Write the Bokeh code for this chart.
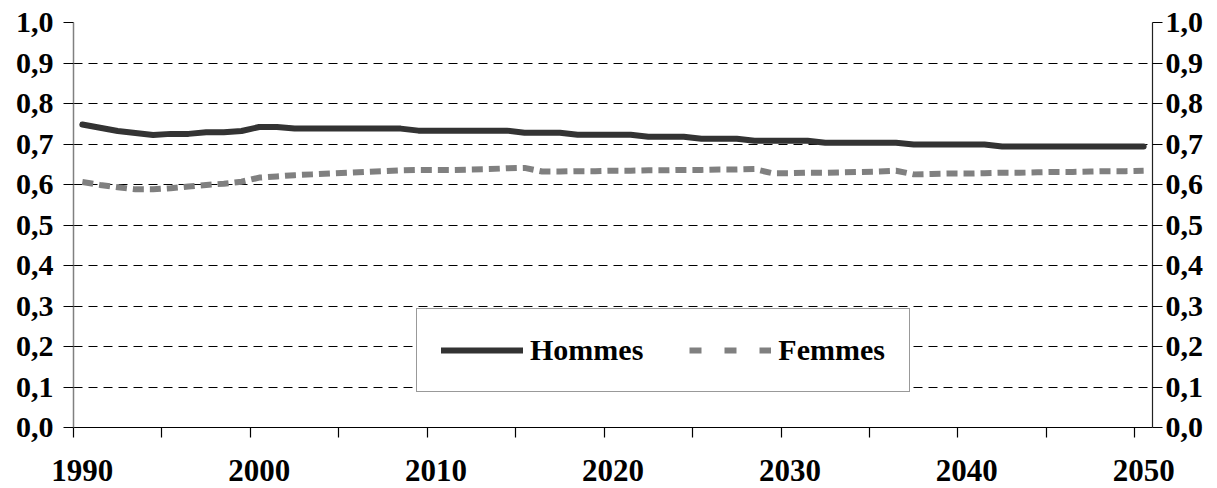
from bokeh.plotting import figure
from bokeh.models import Range1d, FixedTicker, LinearAxis, Legend, LegendItem
from bokeh.embed import file_html
from bokeh.resources import INLINE

years = list(range(1990, 2051))
hommes = [0.748, 0.740, 0.732, 0.727, 0.722, 0.725, 0.725, 0.729, 0.729, 0.732,
          0.742, 0.742, 0.738, 0.738, 0.738, 0.738, 0.738, 0.738, 0.738, 0.733,
          0.733, 0.733, 0.733, 0.733, 0.733, 0.728, 0.728, 0.728, 0.723, 0.723,
          0.723, 0.723, 0.718, 0.718, 0.718, 0.713, 0.713, 0.713, 0.708, 0.708,
          0.708, 0.708, 0.703, 0.703, 0.703, 0.703, 0.703, 0.699, 0.699, 0.699,
          0.699, 0.699, 0.694, 0.694, 0.694, 0.694, 0.694, 0.694, 0.694, 0.694,
          0.694]
femmes = [0.606, 0.599, 0.593, 0.588, 0.588, 0.591, 0.595, 0.599, 0.602, 0.607,
          0.617, 0.620, 0.623, 0.625, 0.627, 0.629, 0.631, 0.633, 0.635, 0.636,
          0.636, 0.636, 0.637, 0.638, 0.640, 0.641, 0.632, 0.632, 0.633, 0.633,
          0.634, 0.634, 0.635, 0.635, 0.636, 0.636, 0.637, 0.637, 0.638, 0.628,
          0.628, 0.629, 0.629, 0.630, 0.631, 0.632, 0.634, 0.625, 0.626, 0.627,
          0.627, 0.628, 0.629, 0.629, 0.630, 0.631, 0.631, 0.632, 0.633, 0.633,
          0.634]
series_names = ["Hommes", "Femmes"]
y_tick_values = [0.0, 0.1, 0.2, 0.3, 0.4, 0.5, 0.6, 0.7, 0.8, 0.9, 1.0]
y_tick_labels = ["0,0", "0,1", "0,2", "0,3", "0,4", "0,5", "0,6", "0,7", "0,8", "0,9", "1,0"]
x_label_years = [1990, 2000, 2010, 2020, 2030, 2040, 2050]
x_tick_labels = ["1990", "2000", "2010", "2020", "2030", "2040", "2050"]

FONT = "Liberation Serif"
FS = "30px"

p = figure(width=1217, height=488, output_backend="svg", toolbar_location=None,
           x_range=Range1d(years[0] - 0.5, years[-1] + 0.5), y_range=Range1d(0, 1),
           min_border_left=73, min_border_right=65, min_border_top=22, min_border_bottom=61)
p.outline_line_color = None
p.background_fill_color = "white"
p.border_fill_color = "white"

yticker = FixedTicker(ticks=y_tick_values)
overrides = {v: s for v, s in zip(y_tick_values, y_tick_labels)}

# left axis
ya = p.yaxis[0]
ya.ticker = yticker
ya.major_label_overrides = overrides
ya.axis_line_color = "#808080"
ya.axis_line_width = 1.5
ya.major_tick_line_color = "black"
ya.major_tick_out = 10
ya.major_tick_in = 0
ya.minor_tick_line_color = None
ya.major_label_standoff = 10
ya.major_label_text_font = FONT
ya.major_label_text_font_style = "bold"
ya.major_label_text_font_size = FS
ya.major_label_text_color = "black"

# right axis
ra = LinearAxis(ticker=yticker, major_label_overrides=overrides)
ra.axis_line_color = "#222222"
ra.axis_line_width = 1.2
ra.major_tick_line_color = "black"
ra.major_tick_out = 10
ra.major_tick_in = 0
ra.minor_tick_line_color = None
ra.major_label_standoff = 3
ra.major_label_text_font = FONT
ra.major_label_text_font_style = "bold"
ra.major_label_text_font_size = FS
ra.major_label_text_color = "black"
p.add_layout(ra, "right")

# bottom axis
minor = [years[0] - 0.5 + 5 * k for k in range(13)]
xa = p.xaxis[0]
xa.ticker = FixedTicker(ticks=x_label_years, minor_ticks=minor)
xa.major_label_overrides = {v: s for v, s in zip(x_label_years, x_tick_labels)}
xa.axis_line_color = "black"
xa.axis_line_width = 1.2
xa.major_tick_out = 0
xa.major_tick_in = 0
xa.major_tick_line_color = None
xa.minor_tick_out = 10
xa.minor_tick_in = 0
xa.minor_tick_line_color = "black"
xa.minor_tick_line_width = 1.2
xa.major_label_standoff = 22
xa.major_label_text_font = FONT
xa.major_label_text_font_style = "bold"
xa.major_label_text_font_size = "31px"
xa.major_label_text_line_height = 0.9
xa.major_label_text_color = "black"

p.xgrid.visible = False
p.ygrid.ticker = yticker
p.ygrid.grid_line_color = "black"
p.ygrid.grid_line_width = 1
p.ygrid.grid_line_dash = "9 6"

r_h = p.line(years, hommes, line_color="#333333", line_width=6, line_cap="round", line_join="round")
r_f = p.line(years, femmes, line_color="#808080", line_width=6, line_dash="11 6")
# legend-only swatch (single point: draws nothing on the plot)
r_f_leg = p.line(years[:1], femmes[:1], line_color="#808080", line_width=6, line_dash="12 23")

legend = Legend(items=[LegendItem(label=series_names[0], renderers=[r_h]),
                       LegendItem(label=series_names[1], renderers=[r_f_leg])],
                location=(343, 35), orientation="horizontal",
                glyph_width=82, glyph_height=20, label_standoff=7, spacing=46,
                padding=24, margin=0,
                border_line_color="#333333", border_line_width=1.5,
                background_fill_color="white", background_fill_alpha=1,
                label_text_font=FONT, label_text_font_style="bold",
                label_text_font_size=FS, label_text_color="black")
p.add_layout(legend)

open("out.html", "w").write(file_html(p, INLINE))
